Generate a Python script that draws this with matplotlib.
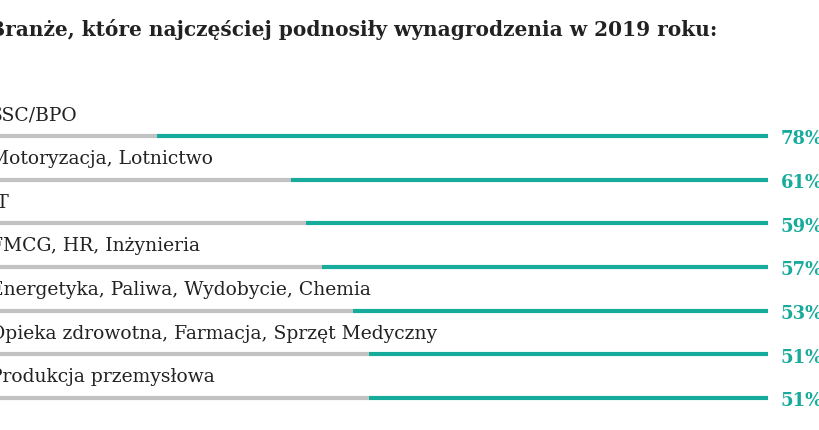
import matplotlib
matplotlib.use('Agg')
import matplotlib.pyplot as plt

title = 'Branże, które najczęściej podnosiły wynagrodzenia w 2019 roku:'
sectors = ['SSC/BPO', 'Motoryzacja, Lotnictwo', 'IT', 'FMCG, HR, Inżynieria',
           'Energetyka, Paliwa, Wydobycie, Chemia',
           'Opieka zdrowotna, Farmacja, Sprzęt Medyczny',
           'Produkcja przemysłowa']
percents = [78, 61, 59, 57, 53, 51, 51]

teal = '#17ab9c'
grey = '#c2c2c2'

fig = plt.figure(figsize=(8.2, 4.31), dpi=100)
ax = fig.add_axes([0, 0, 1, 1])
ax.set_xlim(1.9, 106.6)
ax.set_ylim(6.73, -3.135)
ax.axis('off')

for i, (name, p) in enumerate(zip(sectors, percents)):
    ax.plot([0, 100 - p], [i, i], color=grey, lw=3, solid_capstyle='butt')
    ax.plot([100 - p, 100], [i, i], color=teal, lw=3, solid_capstyle='butt')
    ax.text(101.6, i + 0.05, f'{p}%', color=teal, fontsize=13, fontweight='bold',
            va='center', ha='left', family='DejaVu Serif')
    ax.text(0.6, i - 0.5, name, color='#222222', fontsize=13.5, va='center',
            ha='left', family='DejaVu Serif')

ax.text(0.4, -2.45, title, color='#222222', fontsize=14.5, fontweight='bold',
        va='center', ha='left', family='DejaVu Serif')

fig.savefig('out.png', dpi=100)
